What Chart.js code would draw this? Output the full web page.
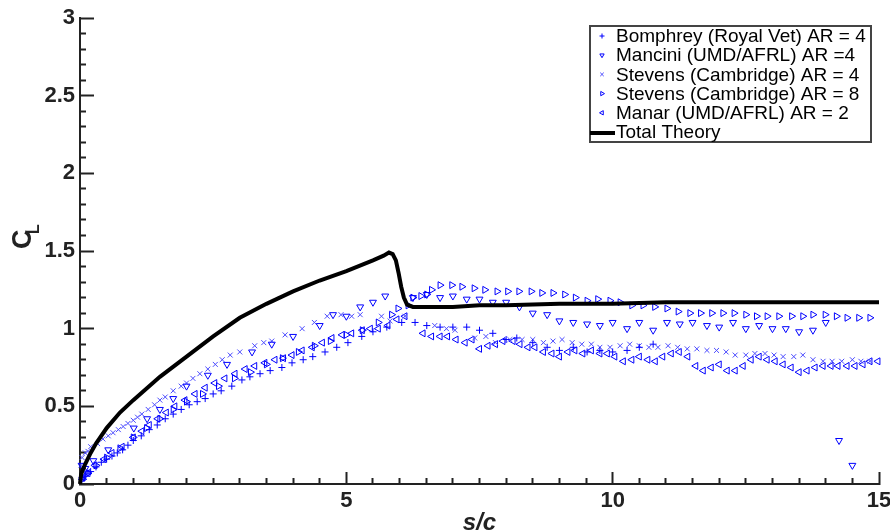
<!DOCTYPE html>
<html>
<head>
<meta charset="utf-8">
<script src="https://cdn.jsdelivr.net/npm/chart.js"></script>
<style>
  body { margin: 0; background: #fff; }
  canvas { display: block; }
</style>
</head>
<body>
<canvas id="chart1" width="890" height="532"></canvas>
<script>
// valores (s/c, C_L)

const bomphreyS = [0.03, 0.06, 0.1, 0.15, 0.2, 0.3, 0.4, 0.5, 0.6, 0.7, 0.8, 0.9, 1.0, 1.15, 1.3, 1.45, 1.6, 1.75, 1.9, 2.05, 2.2, 2.35, 2.5, 2.65, 2.85, 3.04, 3.19, 3.38, 3.57, 3.79, 3.98, 4.19, 4.37, 4.6, 4.82, 5.03, 5.29, 5.5, 5.76, 6.04, 6.29, 6.51, 6.76, 7.0, 7.26, 7.5, 7.75, 8.0, 8.2, 8.5, 8.77, 9.0, 9.26, 9.52, 9.76, 10.0, 10.27, 10.5, 10.76];
const bomphreyCL = [0.03, 0.04, 0.05, 0.07, 0.08, 0.11, 0.14, 0.16, 0.18, 0.2, 0.22, 0.25, 0.28, 0.31, 0.35, 0.38, 0.42, 0.45, 0.48, 0.51, 0.53, 0.55, 0.58, 0.6, 0.63, 0.67, 0.69, 0.71, 0.73, 0.75, 0.78, 0.8, 0.82, 0.85, 0.88, 0.91, 0.95, 0.98, 1.01, 1.04, 1.04, 1.02, 1.01, 1.01, 1.01, 0.99, 0.97, 0.93, 0.94, 0.91, 0.88, 0.86, 0.88, 0.85, 0.86, 0.85, 0.86, 0.88, 0.9];

const manciniS = [0.03, 0.1, 0.25, 0.53, 1.01, 1.26, 1.5, 1.75, 2.0, 2.4, 2.76, 3.23, 3.6, 4.0, 4.5, 4.75, 5.0, 5.26, 5.5, 5.73, 6.25, 6.51, 6.76, 7.0, 7.26, 7.5, 7.75, 8.0, 8.25, 8.5, 8.77, 9.0, 9.26, 9.52, 9.76, 10.0, 10.27, 10.5, 10.76, 11.02, 11.26, 11.5, 11.77, 12.0, 12.26, 12.5, 12.75, 13.0, 13.25, 13.5, 13.76, 14.0, 14.25, 14.5];
const manciniCL = [0.12, 0.1, 0.15, 0.22, 0.36, 0.42, 0.48, 0.55, 0.63, 0.7, 0.77, 0.85, 0.9, 0.95, 1.02, 1.09, 1.08, 1.14, 1.17, 1.21, 1.2, 1.22, 1.2, 1.21, 1.19, 1.19, 1.17, 1.17, 1.14, 1.1, 1.09, 1.05, 1.04, 1.03, 1.02, 1.04, 1.0, 1.04, 0.99, 1.04, 1.03, 1.04, 1.02, 1.01, 1.04, 1.0, 1.02, 1.0, 1.0, 0.98, 0.99, 1.04, 0.28, 0.12];

const stevens4S = [0.02, 0.04, 0.1, 0.15, 0.2, 0.33, 0.43, 0.53, 0.62, 0.72, 0.81, 0.9, 1.0, 1.08, 1.16, 1.28, 1.4, 1.5, 1.6, 1.75, 1.9, 2.0, 2.12, 2.25, 2.4, 2.54, 2.67, 2.82, 3.0, 3.28, 3.45, 3.6, 3.85, 4.17, 4.4, 4.64, 4.9, 5.1, 5.26, 5.66, 5.82, 6.1, 6.66, 6.88, 7.04, 7.41, 7.62, 7.8, 8.07, 8.3, 8.5, 8.7, 8.88, 9.05, 9.24, 9.42, 9.6, 9.76, 9.95, 10.14, 10.32, 10.5, 10.68, 10.85, 11.04, 11.22, 11.4, 11.58, 11.77, 11.95, 12.13, 12.3, 12.5, 12.67, 12.86, 13.03, 13.2, 13.4, 13.57, 13.76, 13.95, 14.12, 14.3, 14.5, 14.66, 14.83];
const stevens4CL = [0.12, 0.17, 0.2, 0.21, 0.24, 0.26, 0.29, 0.31, 0.33, 0.35, 0.37, 0.39, 0.41, 0.43, 0.45, 0.48, 0.51, 0.54, 0.56, 0.6, 0.63, 0.65, 0.68, 0.71, 0.74, 0.77, 0.8, 0.83, 0.85, 0.89, 0.91, 0.92, 0.96, 1.0, 1.04, 1.08, 1.09, 1.08, 1.09, 1.08, 1.05, 1.08, 1.02, 1.0, 0.99, 0.94, 0.95, 0.91, 0.93, 0.93, 0.93, 0.91, 0.92, 0.93, 0.91, 0.9, 0.9, 0.88, 0.88, 0.89, 0.9, 0.89, 0.88, 0.88, 0.89, 0.88, 0.87, 0.87, 0.86, 0.86, 0.85, 0.83, 0.83, 0.84, 0.84, 0.83, 0.82, 0.82, 0.83, 0.8, 0.79, 0.79, 0.79, 0.8, 0.79, 0.79];

const stevens8S = [0.05, 0.15, 0.3, 0.5, 0.75, 1.0, 1.25, 1.5, 1.75, 2.0, 2.3, 2.6, 2.9, 3.2, 3.5, 3.8, 4.1, 4.4, 4.7, 5.0, 5.3, 5.6, 5.85, 5.97, 6.16, 6.25, 6.4, 6.51, 6.6, 6.76, 6.98, 7.17, 7.4, 7.6, 7.83, 8.03, 8.24, 8.47, 8.67, 8.88, 9.1, 9.3, 9.52, 9.72, 9.95, 10.14, 10.36, 10.57, 10.79, 11.02, 11.23, 11.45, 11.65, 11.86, 12.07, 12.28, 12.5, 12.7, 12.9, 13.12, 13.36, 13.57, 13.76, 13.99, 14.2, 14.4, 14.62, 14.83];
const stevens8CL = [0.03, 0.07, 0.12, 0.17, 0.23, 0.3, 0.36, 0.42, 0.48, 0.53, 0.58, 0.63, 0.68, 0.72, 0.77, 0.81, 0.85, 0.89, 0.92, 0.96, 0.99, 1.04, 1.09, 1.13, 1.15, 1.2, 1.21, 1.22, 1.25, 1.28, 1.28, 1.27, 1.26, 1.25, 1.24, 1.24, 1.24, 1.24, 1.23, 1.23, 1.22, 1.2, 1.18, 1.19, 1.18, 1.17, 1.15, 1.15, 1.14, 1.13, 1.11, 1.1, 1.1, 1.1, 1.1, 1.1, 1.09, 1.08, 1.08, 1.08, 1.08, 1.08, 1.09, 1.09, 1.08, 1.07, 1.07, 1.07];

const manarS = [0.05, 0.15, 0.28, 0.45, 0.6, 0.79, 1.0, 1.16, 1.3, 1.46, 1.62, 1.78, 1.97, 2.16, 2.35, 2.53, 2.72, 2.91, 3.1, 3.28, 3.47, 3.66, 3.82, 3.98, 4.17, 4.36, 4.55, 4.73, 4.92, 5.1, 5.3, 5.45, 5.6, 5.78, 5.95, 6.1, 6.44, 6.6, 6.76, 6.9, 7.06, 7.23, 7.36, 7.5, 7.66, 7.8, 7.94, 8.13, 8.26, 8.41, 8.54, 8.7, 8.86, 9.0, 9.16, 9.29, 9.44, 9.6, 9.76, 9.9, 10.04, 10.2, 10.36, 10.5, 10.66, 10.8, 10.94, 11.1, 11.25, 11.41, 11.56, 11.7, 11.85, 12.0, 12.15, 12.3, 12.45, 12.6, 12.75, 12.9, 13.05, 13.2, 13.35, 13.5, 13.65, 13.8, 13.95, 14.1, 14.23, 14.4, 14.55, 14.7, 14.83, 14.98];
const manarCL = [0.04, 0.07, 0.12, 0.16, 0.2, 0.24, 0.3, 0.34, 0.38, 0.42, 0.46, 0.5, 0.54, 0.58, 0.62, 0.65, 0.68, 0.71, 0.74, 0.76, 0.78, 0.8, 0.81, 0.83, 0.86, 0.88, 0.91, 0.94, 0.96, 0.97, 0.99, 1.0, 1.0, 1.02, 1.06, 1.08, 0.97, 0.95, 0.95, 0.95, 0.93, 0.91, 0.93, 0.87, 0.89, 0.9, 0.92, 0.92, 0.9, 0.88, 0.88, 0.85, 0.84, 0.82, 0.85, 0.86, 0.84, 0.86, 0.84, 0.84, 0.82, 0.79, 0.8, 0.82, 0.8, 0.79, 0.82, 0.84, 0.85, 0.82, 0.76, 0.73, 0.75, 0.77, 0.73, 0.73, 0.76, 0.8, 0.82, 0.8, 0.79, 0.77, 0.75, 0.72, 0.73, 0.75, 0.76, 0.76, 0.76, 0.76, 0.76, 0.77, 0.79, 0.79];

const theoryS = [0, 0.02, 0.05, 0.1, 0.2, 0.3, 0.5, 0.75, 1, 1.5, 2, 2.5, 3, 3.5, 4, 4.5, 5, 5.5, 5.7, 5.8, 5.87, 5.93, 5.98, 6.03, 6.08, 6.14, 6.25, 6.5, 7, 7.5, 8, 9, 10, 11, 12, 13, 14, 15];
const theoryCL = [0, 0.06, 0.09, 0.13, 0.2, 0.26, 0.36, 0.46, 0.54, 0.69, 0.82, 0.95, 1.07, 1.16, 1.24, 1.31, 1.37, 1.44, 1.47, 1.49, 1.48, 1.44, 1.36, 1.27, 1.2, 1.155, 1.14, 1.14, 1.14, 1.15, 1.15, 1.16, 1.16, 1.17, 1.17, 1.17, 1.17, 1.17];

// rotulos dos eixos (maiores) e passo dos tracinhos menores
const xTickLabels = [0, 5, 10, 15];
const yTickLabels = [0, 0.5, 1, 1.5, 2, 2.5, 3];
const xMinorStep = 0.5;
const yMinorStep = 0.1;

const azul = '#0000ff';
const eixo = '#222222';
const fonte = "'Liberation Sans', Arial, sans-serif";

const pts = (xs, ys) => xs.map((v, i) => ({ x: v, y: ys[i] }));
const ehRotulo = (lista, v) => lista.some(t => Math.abs(t - v) < 1e-6);

function serie(label, xs, ys, style, rot, raio, cor) {
  return {
    label: label,
    data: pts(xs, ys),
    showLine: false,
    pointStyle: style,
    rotation: rot,
    pointRadius: raio,
    pointHoverRadius: raio,
    pointBorderWidth: 1,
    borderColor: cor || azul,
    backgroundColor: 'rgba(0,0,0,0)',
    clip: false
  };
}

// titulos e legenda com caixa
const extras = {
  id: 'extras',
  afterDraw(chart) {
    const ctx = chart.ctx;
    const a = chart.chartArea;
    ctx.save();

    // titulo eixo x
    ctx.fillStyle = eixo;
    ctx.textAlign = 'center';
    ctx.textBaseline = 'alphabetic';
    ctx.font = 'italic bold 24px ' + fonte;
    ctx.fillText('s/c', (a.left + a.right) / 2, 530);

    // titulo eixo y: C com L subscrito
    ctx.save();
    ctx.translate(31, 249);
    ctx.rotate(-Math.PI / 2);
    ctx.textAlign = 'left';
    ctx.font = 'bold 27px ' + fonte;
    ctx.fillText('C', 0, 0);
    ctx.font = 'bold 16px ' + fonte;
    ctx.fillText('L', 15, 8);
    ctx.restore();

    // legenda
    const lx = 590, ly = 26, lw = 281, lh = 116;
    ctx.fillStyle = '#fff';
    ctx.fillRect(lx, ly, lw, lh);
    ctx.strokeStyle = '#444';
    ctx.lineWidth = 2;
    ctx.strokeRect(lx, ly, lw, lh);
    ctx.font = '19px ' + fonte;
    ctx.textAlign = 'left';
    ctx.textBaseline = 'middle';
    chart.data.datasets.forEach((ds, i) => {
      const cy = ly + 10 + i * 19.2;
      if (ds.showLine) {
        ctx.strokeStyle = '#000';
        ctx.lineWidth = 4;
        ctx.beginPath();
        ctx.moveTo(lx, cy + 1);
        ctx.lineTo(lx + 25, cy + 1);
        ctx.stroke();
      } else {
        ctx.strokeStyle = ds.borderColor;
        ctx.fillStyle = 'rgba(0,0,0,0)';
        ctx.lineWidth = 1;
        Chart.helpers.drawPoint(ctx, { pointStyle: ds.pointStyle, rotation: ds.rotation, radius: 2.5, borderWidth: 1 }, lx + 12, cy);
      }
      ctx.fillStyle = '#000';
      ctx.fillText(ds.label, lx + 26, cy + 1);
    });

    ctx.restore();
  }
};

new Chart(document.getElementById('chart1'), {
  type: 'scatter',
  data: {
    datasets: [
      serie('Bomphrey (Royal Vet) AR = 4', bomphreyS, bomphreyCL, 'cross', 0, 3.5),
      serie('Mancini (UMD/AFRL) AR =4', manciniS, manciniCL, 'triangle', 180, 4),
      serie('Stevens (Cambridge) AR = 4', stevens4S, stevens4CL, 'crossRot', 0, 3.5, '#4a4aff'),
      serie('Stevens (Cambridge) AR = 8', stevens8S, stevens8CL, 'triangle', 90, 4),
      serie('Manar (UMD/AFRL) AR = 2', manarS, manarCL, 'triangle', 270, 4),
      {
        label: 'Total Theory',
        data: pts(theoryS, theoryCL),
        showLine: true,
        borderColor: '#000',
        borderWidth: 4,
        pointRadius: 0,
        tension: 0,
        order: -1,
        clip: false
      }
    ]
  },
  options: {
    responsive: false,
    animation: false,
    devicePixelRatio: 1,
    layout: { padding: { top: 18, right: 11, left: 0, bottom: 0 } },
    plugins: {
      legend: { display: false },
      tooltip: { enabled: false }
    },
    scales: {
      x: {
        type: 'linear',
        min: 0,
        max: 15,
        afterBuildTicks: s => {
          const t = [];
          for (let i = 0; i <= Math.round(15 / xMinorStep); i++) t.push({ value: i * xMinorStep });
          s.ticks = t;
        },
        // altura fixa e sem folga extra dos rotulos (a margem vem do layout)
        afterFit: s => { s.height = 48; s.paddingLeft = 0; s.paddingRight = 0; },
        // tracinhos para dentro: comprimento negativo, menores cortados com tracejado
        grid: {
          display: true,
          drawOnChartArea: false,
          drawTicks: true,
          color: 'rgba(0,0,0,0)',
          tickLength: -12,
          tickWidth: 2,
          tickColor: eixo,
          tickBorderDash: c => (c.tick && !ehRotulo(xTickLabels, c.tick.value)) ? [7, 100] : []
        },
        border: { display: true, color: eixo, width: 2 },
        ticks: {
          color: eixo, padding: 16, maxRotation: 0, autoSkip: false,
          callback: v => ehRotulo(xTickLabels, v) ? String(Math.round(v)) : '',
          font: { family: fonte, size: 22, weight: 'bold' }
        }
      },
      y: {
        type: 'linear',
        min: 0,
        max: 3,
        afterBuildTicks: s => {
          const t = [];
          for (let i = 0; i <= Math.round(3 / yMinorStep); i++) t.push({ value: i / 10 });
          s.ticks = t;
        },
        afterFit: s => { s.width = 80; s.paddingTop = 0; s.paddingBottom = 0; },
        grid: {
          display: true,
          drawOnChartArea: false,
          drawTicks: true,
          color: 'rgba(0,0,0,0)',
          tickLength: -14,
          tickWidth: 2,
          tickColor: eixo,
          tickBorderDash: c => (c.tick && !ehRotulo(yTickLabels, c.tick.value)) ? [0, 8, 7, 100] : []
        },
        border: { display: true, color: eixo, width: 2 },
        ticks: {
          color: eixo, padding: 19, autoSkip: false,
          callback: v => ehRotulo(yTickLabels, v) ? String(Math.round(v * 2) / 2) : '',
          font: { family: fonte, size: 22, weight: 'bold' }
        }
      }
    }
  },
  plugins: [extras]
});
</script>
</body>
</html>
